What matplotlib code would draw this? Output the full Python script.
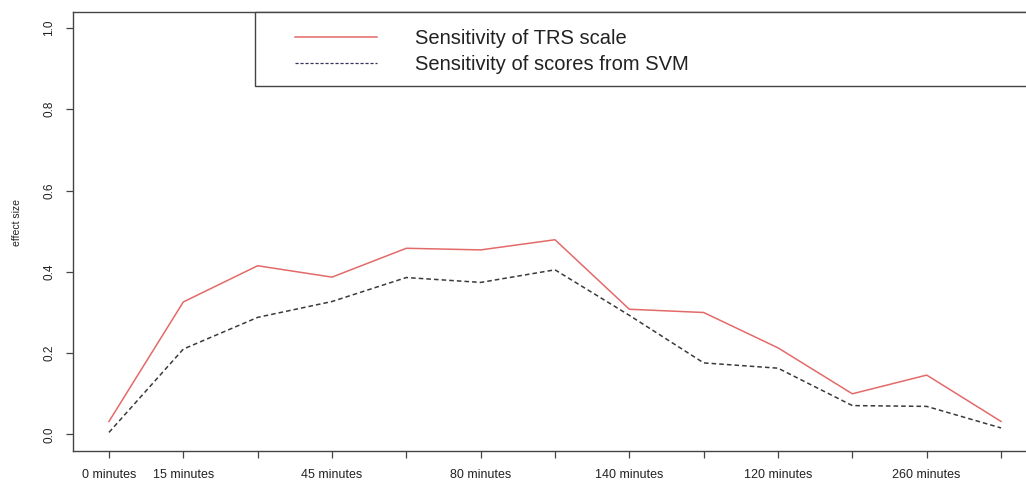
import matplotlib
matplotlib.use("Agg")
import matplotlib.pyplot as plt
from matplotlib.lines import Line2D
from matplotlib.patches import Rectangle

plt.rcParams['font.family'] = ['Liberation Sans', 'DejaVu Sans']

# time points (only some labels fit on the axis)
tick_labels = ["0 minutes", "15 minutes", "", "45 minutes", "", "80 minutes", "",
               "140 minutes", "", "120 minutes", "", "260 minutes", ""]
trs_sensitivity = [0.032, 0.326, 0.415, 0.387, 0.458, 0.454, 0.479,
                   0.308, 0.300, 0.213, 0.100, 0.146, 0.032]
svm_sensitivity = [0.005, 0.210, 0.288, 0.327, 0.386, 0.374, 0.405,
                   0.293, 0.176, 0.163, 0.071, 0.069, 0.016]
legend_labels = ["Sensitivity of TRS scale", "Sensitivity of scores from SVM"]

W, H = 1026, 483


def px_axes(left, top, right, bottom):
    """Axes rectangle in figure fractions from pixel edges."""
    return [left / W, 1 - bottom / H, (right - left) / W, (bottom - top) / H]


def plot_sensitivity():
    fig = plt.figure(figsize=(W / 100, H / 100), dpi=100)
    ax = fig.add_axes(px_axes(73.3, 11.7, 1036.7, 450.7))

    x = list(range(1, len(trs_sensitivity) + 1))
    ax.plot(x, trs_sensitivity, color='#e46a6a', lw=1.1)
    ax.plot(x, svm_sensitivity, color='#3a3a3a', lw=1.1, linestyle=(0, (3, 2)))

    ax.set_xlim(0.52, 13.48)
    ax.set_ylim(-0.04, 1.04)
    ax.set_xticks(x)
    ax.set_xticklabels(tick_labels, fontsize=9)
    ax.set_yticks([0.0, 0.2, 0.4, 0.6, 0.8, 1.0])
    ax.set_yticklabels(["0.0", "0.2", "0.4", "0.6", "0.8", "1.0"], fontsize=8.5,
                       rotation=90, va='center')
    ax.tick_params(axis='both', length=5, width=0.9, color='#444444',
                   labelcolor='#222222', direction='out')
    ax.tick_params(axis='x', pad=8)
    ax.tick_params(axis='y', pad=8)
    for s in ax.spines.values():
        s.set_color('#444444')
        s.set_linewidth(1.0)

    ax.set_ylabel("effect size", fontsize=7.5, color='#222222')
    ax.yaxis.set_label_coords(-0.053, 0.52)

    # legend box in the top right corner of the plot region
    ax.add_patch(Rectangle((0.1886, 0.8314), 0.8114, 0.1686, transform=ax.transAxes,
                           facecolor='white', edgecolor='#444444', lw=1.0,
                           clip_on=False, zorder=3))
    handles = [Line2D([], [], color='#e46a6a', lw=1.1),
               Line2D([], [], color='#35355a', lw=0.9, linestyle=(0, (2.5, 1.5)))]
    leg = ax.legend(handles, legend_labels, loc='upper left',
                    bbox_to_anchor=(0.2301, 0.961), frameon=False,
                    fontsize=14.5, handlelength=4.06, handletextpad=1.89,
                    borderpad=0, borderaxespad=0, labelspacing=0.34)
    leg.set_zorder(4)
    for t in leg.get_texts():
        t.set_color('#222222')

    fig.savefig("out.png", dpi=100)


def main():
    plot_sensitivity()


if __name__ == "__main__":
    main()
